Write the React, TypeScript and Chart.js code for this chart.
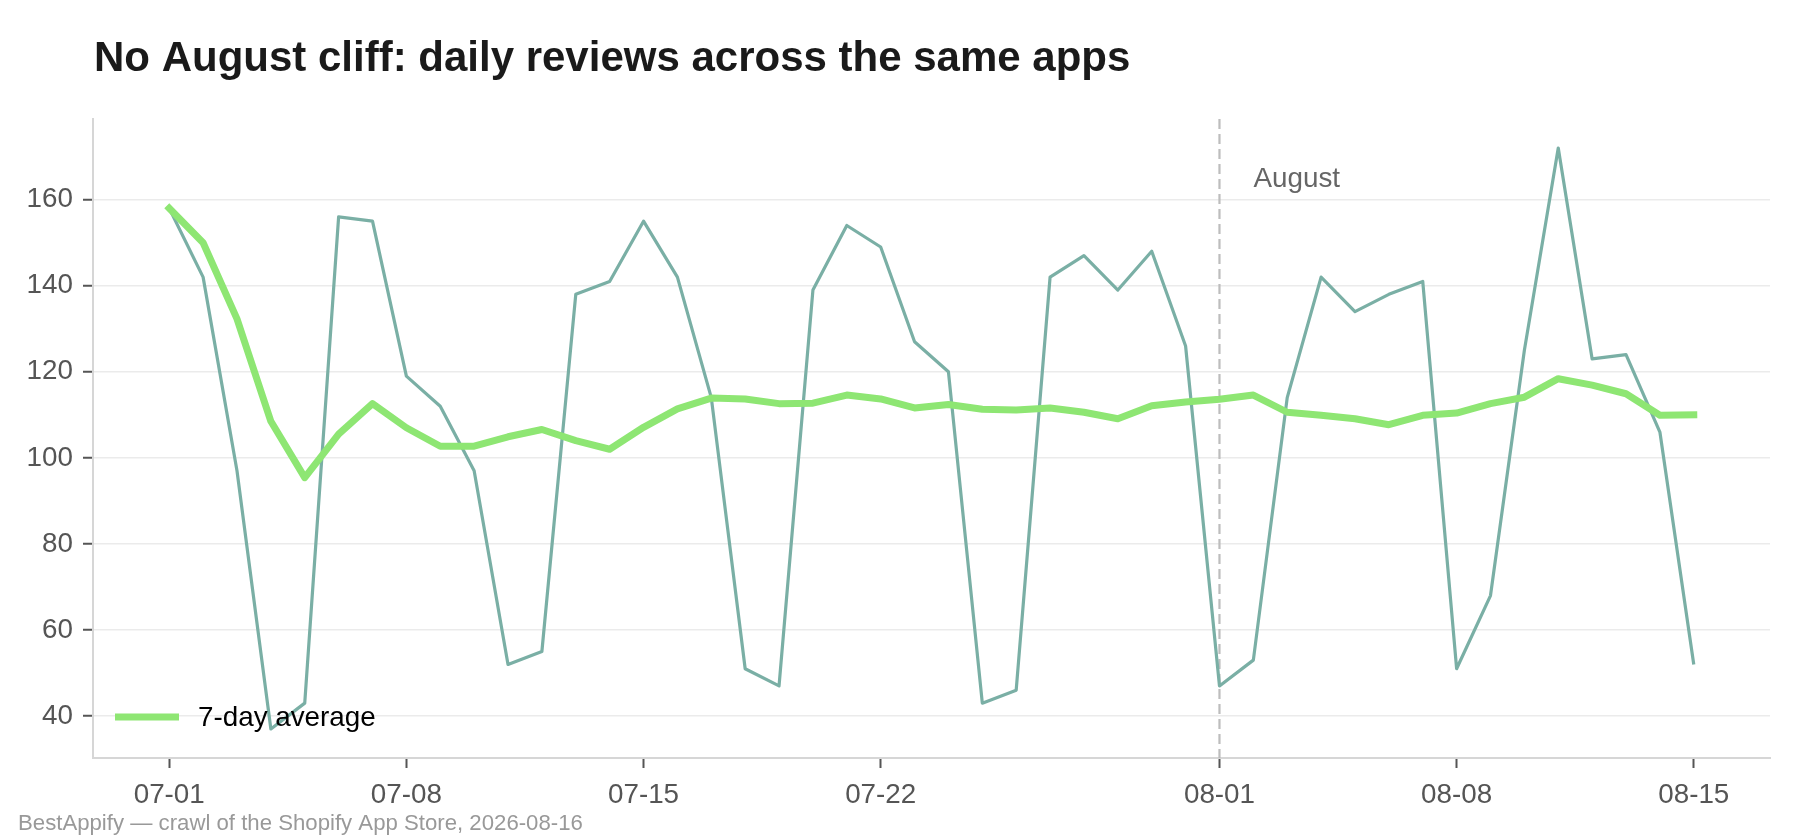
import { useEffect, useRef } from 'react';
import { Chart, registerables } from 'chart.js';

Chart.register(...registerables);

const FONT = '"Liberation Sans", Arial, Helvetica, sans-serif';

// daily review counts, 07-01 .. 08-15
const dates = [
  '07-01', '07-02', '07-03', '07-04', '07-05', '07-06', '07-07', '07-08', '07-09', '07-10',
  '07-11', '07-12', '07-13', '07-14', '07-15', '07-16', '07-17', '07-18', '07-19', '07-20',
  '07-21', '07-22', '07-23', '07-24', '07-25', '07-26', '07-27', '07-28', '07-29', '07-30',
  '07-31', '08-01', '08-02', '08-03', '08-04', '08-05', '08-06', '08-07', '08-08', '08-09',
  '08-10', '08-11', '08-12', '08-13', '08-14', '08-15',
];

const dailyReviews = [
  158, 142, 97, 37, 43, 156, 155, 119, 112, 97,
  52, 55, 138, 141, 155, 142, 114, 51, 47, 139,
  154, 149, 127, 120, 43, 46, 142, 147, 139, 148,
  126, 47, 53, 114, 142, 134, 138, 141, 51, 68,
  125, 172, 123, 124, 106, 52,
];

const sevenDayAvg = [
  158, 150, 132.3, 108.5, 95.4, 105.5, 112.6, 107, 102.7, 102.7,
  104.9, 106.6, 104, 102, 107.1, 111.4, 113.9, 113.7, 112.6, 112.7,
  114.6, 113.7, 111.6, 112.4, 111.3, 111.1, 111.6, 110.6, 109.1, 112.1,
  113, 113.6, 114.6, 110.6, 109.9, 109.1, 107.7, 109.9, 110.4, 112.6,
  114.1, 118.4, 116.9, 114.9, 109.9, 110,
];

const xTickDates = ['07-01', '07-08', '07-15', '07-22', '08-01', '08-08', '08-15'];
const yTicks = [40, 60, 80, 100, 120, 140, 160];
const markerDate = '08-01';

const overlay = {
  id: 'overlay',
  beforeDatasetsDraw(chart: any) {
    const { ctx, chartArea, scales } = chart;
    const x = scales.x.getPixelForValue(dates.indexOf(markerDate));
    ctx.save();
    ctx.strokeStyle = '#bdbdbd';
    ctx.lineWidth = 2.2;
    ctx.setLineDash([10, 5]);
    ctx.beginPath();
    ctx.moveTo(x, chartArea.top);
    ctx.lineTo(x, chartArea.bottom);
    ctx.stroke();
    ctx.restore();
  },
  afterDraw(chart: any) {
    const { ctx, chartArea, scales } = chart;
    const x = scales.x.getPixelForValue(dates.indexOf(markerDate));
    ctx.save();
    ctx.textBaseline = 'alphabetic';
    ctx.textAlign = 'left';

    ctx.fillStyle = '#666666';
    ctx.font = `27.8px ${FONT}`;
    ctx.fillText('August', x + 34, chartArea.top + 68);

    ctx.fillStyle = '#1a1a1a';
    ctx.font = `bold 42px ${FONT}`;
    ctx.fillText('No August cliff: daily reviews across the same apps', chartArea.left + 1, 71);

    ctx.fillStyle = '#999999';
    ctx.font = `22.2px ${FONT}`;
    ctx.fillText('BestAppify — crawl of the Shopify App Store, 2026-08-16', 18, 830);

    // legend, bottom-left inside the axes
    const ly = chartArea.bottom - 41;
    ctx.strokeStyle = '#8ee673';
    ctx.lineWidth = 7;
    ctx.beginPath();
    ctx.moveTo(chartArea.left + 22, ly);
    ctx.lineTo(chartArea.left + 86, ly);
    ctx.stroke();
    ctx.fillStyle = '#000000';
    ctx.font = `27.8px ${FONT}`;
    ctx.textBaseline = 'middle';
    ctx.fillText('7-day average', chartArea.left + 105, ly + 1);
    ctx.restore();
  },
};

export default function App() {
  const canvasRef = useRef<HTMLCanvasElement>(null);
  const chartRef = useRef<Chart | null>(null);

  useEffect(() => {
    if (!canvasRef.current) return;
    if (chartRef.current) chartRef.current.destroy();

    chartRef.current = new Chart(canvasRef.current, {
      type: 'line',
      data: {
        datasets: [
          {
            label: '7-day average',
            data: sevenDayAvg.map((y, i) => ({ x: i, y })),
            borderColor: '#8ee673',
            borderWidth: 7,
            borderJoinStyle: 'round',
            borderCapStyle: 'square',
            pointRadius: 0,
            tension: 0,
          },
          {
            label: 'Daily reviews',
            data: dailyReviews.map((y, i) => ({ x: i, y })),
            borderColor: '#7aafa5',
            borderWidth: 3.2,
            borderJoinStyle: 'round',
            pointRadius: 0,
            tension: 0,
          },
        ],
      },
      options: {
        animation: false,
        responsive: true,
        maintainAspectRatio: false,
        layout: { padding: { top: 119, right: 30, left: 0, bottom: 0 } },
        plugins: { legend: { display: false }, tooltip: { enabled: false } },
        scales: {
          x: {
            type: 'linear',
            min: -2.25,
            max: dates.length - 1 + 2.25,
            afterBuildTicks: (scale: any) => {
              scale.ticks = xTickDates.map(d => ({ value: dates.indexOf(d) }));
            },
            afterFit: (scale: any) => {
              scale.height = 82;
            },
            grid: {
              drawOnChartArea: false,
              drawTicks: true,
              tickLength: 10,
              tickColor: '#555555',
              tickWidth: 2,
            },
            border: { display: true, color: '#d6d6d6', width: 2 },
            ticks: {
              padding: 11,
              color: '#555555',
              font: { family: FONT, size: 27.8 },
              maxRotation: 0,
              autoSkip: false,
              callback: (v: any) => dates[Number(v)],
            },
          },
          y: {
            min: 30.25,
            max: 178.75,
            afterBuildTicks: (scale: any) => {
              scale.ticks = yTicks.map(v => ({ value: v }));
            },
            afterFit: (scale: any) => {
              scale.width = 93;
            },
            grid: {
              color: '#ebebeb',
              lineWidth: 1.5,
              tickLength: 10,
              tickColor: '#555555',
              tickWidth: 2,
            },
            border: { display: true, color: '#d6d6d6', width: 2 },
            ticks: {
              padding: 10,
              color: '#555555',
              font: { family: FONT, size: 27.8 },
            },
          },
        },
      },
      plugins: [overlay],
    });

    return () => chartRef.current?.destroy();
  }, []);

  return (
    <div style={{ position: 'fixed', left: 0, top: 0, width: 1800, height: 840, background: '#fff' }}>
      <canvas ref={canvasRef} />
    </div>
  );
}
